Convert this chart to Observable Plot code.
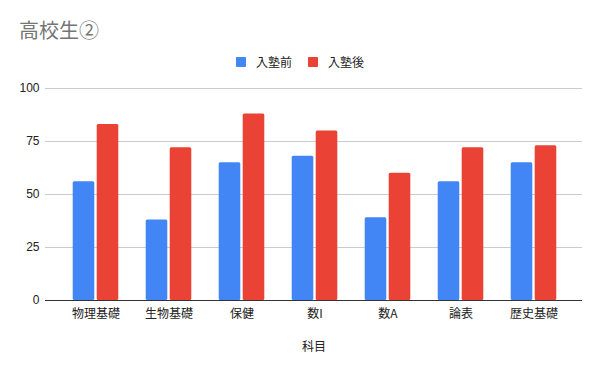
<!DOCTYPE html>
<html>
<head>
<meta charset="utf-8">
<script src="https://cdn.jsdelivr.net/npm/d3@7"></script>
<script src="https://cdn.jsdelivr.net/npm/@observablehq/plot@0.6"></script>
<style>
  body { margin: 0; background: #fff; font-family: "Liberation Sans", "Noto Sans CJK JP", sans-serif; }
  #wrap { width: 600px; }
  #header { position: relative; height: 75px; }
  #title { position: absolute; left: 19px; top: 20px; font-size: 20px; line-height: 20px; color: #757575; font-family: "Noto Sans CJK JP", sans-serif; }
  #legend { position: absolute; left: 0; width: 600px; top: 55px; display: flex; justify-content: center; align-items: center; font-size: 12px; line-height: 14px; color: #222; font-family: "Noto Sans CJK JP", sans-serif; }
  .item { display: flex; align-items: center; margin: 0 8px; }
  .sw { width: 10px; height: 10px; margin-right: 10px; border-radius: 1px; }
</style>
</head>
<body>
<div id="wrap">
  <div id="header">
    <div id="title">高校生②</div>
    <div id="legend"></div>
  </div>
  <div id="chart"></div>
</div>
<script>
const categories = ["物理基礎", "生物基礎", "保健", "数I", "数A", "論表", "歴史基礎"];
const seriesNames = ["入塾前", "入塾後"];
const before = [56, 38, 65, 68, 39, 56, 65];
const after = [83, 72, 88, 80, 60, 72, 73];
const yTicks = [0, 25, 50, 75, 100];
const colors = ["#4285F4", "#EA4335"];

const dataBefore = categories.map((c, i) => ({cat: c, series: seriesNames[0], value: before[i]}));
const dataAfter = categories.map((c, i) => ({cat: c, series: seriesNames[1], value: after[i]}));

const legend = document.getElementById("legend");
seriesNames.forEach((s, i) => {
  const it = document.createElement("div");
  it.className = "item";
  it.innerHTML = `<span class="sw" style="background:${colors[i]}"></span><span>${s}</span>`;
  legend.appendChild(it);
});

const chart = Plot.plot({
  width: 600,
  height: 296,
  marginTop: 13,
  marginBottom: 71,
  marginLeft: 45,
  marginRight: 18,
  style: { fontFamily: "Liberation Sans, Noto Sans CJK JP, sans-serif", fontSize: "12px", color: "#222", background: "#fff" },
  x: { domain: categories, range: [57.8, 571.2], padding: 0 },
  y: { domain: [0, 100] },
  marks: [
    Plot.ruleY(yTicks.filter(d => d > 0), { stroke: "#cccccc", strokeWidth: 1 }),
    Plot.barY(dataBefore, { x: "cat", y: "value", fill: colors[0], insetLeft: 13.7, insetRight: 37.7, rx: 1.5 }),
    Plot.barY(dataAfter, { x: "cat", y: "value", fill: colors[1], insetLeft: 37.7, insetRight: 13.7, rx: 1.5 }),
    Plot.ruleY([0], { stroke: "#333333", strokeWidth: 1.2 }),
    Plot.axisY({ ticks: yTicks, tickSize: 0, tickPadding: 6, label: null, fill: "#222" }),
    Plot.axisX({ tickSize: 0, tickPadding: 9, label: "科目", labelAnchor: "center", labelOffset: 50, fill: "#222",
      fontFamily: "Noto Sans CJK JP, sans-serif" })
  ]
});
document.getElementById("chart").appendChild(chart);
</script>
</body>
</html>
